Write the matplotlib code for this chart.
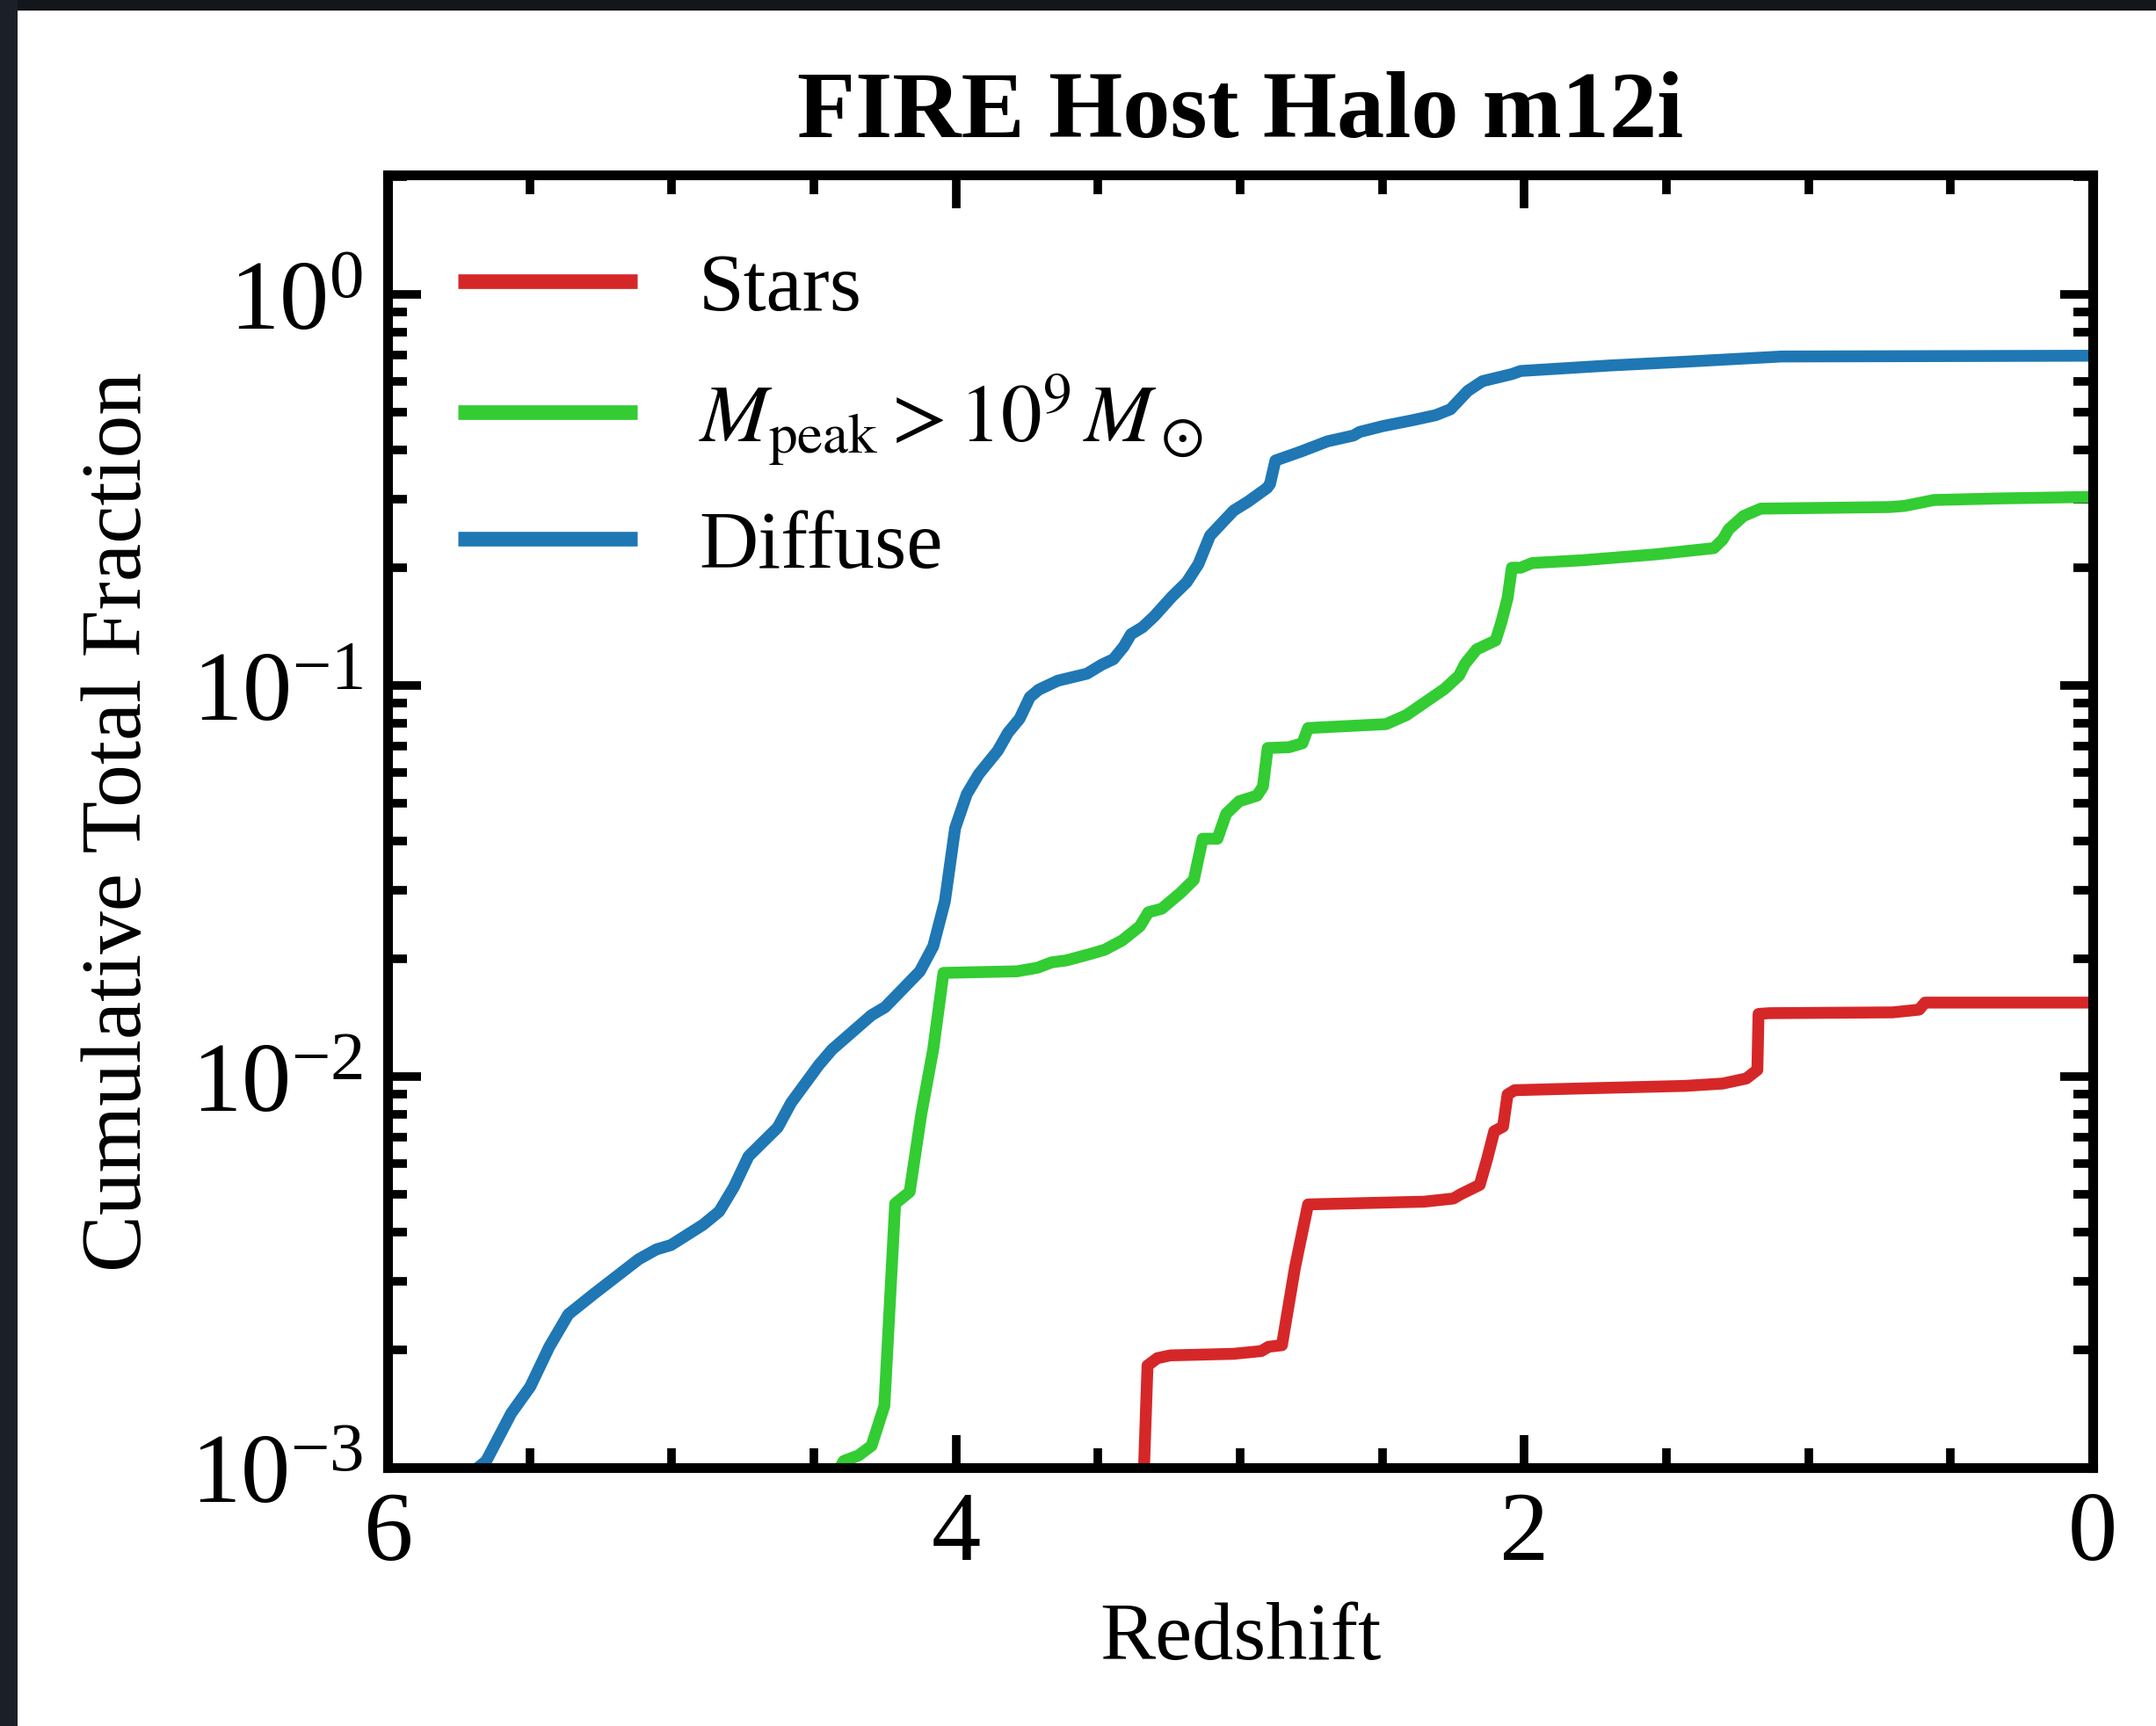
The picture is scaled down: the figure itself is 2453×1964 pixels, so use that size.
import numpy as np
import matplotlib
matplotlib.use('Agg')
import matplotlib.pyplot as plt
from matplotlib.patches import Rectangle
from matplotlib.ticker import LogLocator, MultipleLocator, NullFormatter

plt.rcParams['font.family'] = ['Liberation Serif', 'DejaVu Serif']
plt.rcParams['mathtext.fontset'] = 'stix'

# ---------------- data (redshift, log10 cumulative fraction) ----------------
stars_z = [3.343, 3.326, 3.291, 3.245, 3.023, 2.926, 2.900, 2.853, 2.807, 2.761,
           2.353, 2.250, 2.224, 2.157, 2.131, 2.106, 2.075, 2.059, 2.034, 1.827,
           1.436, 1.302, 1.219, 1.180, 1.176, 1.137, 0.704, 0.611, 0.590, 0.000]
stars_logf = [-3.10, -2.739, -2.720, -2.713, -2.709, -2.702, -2.691, -2.687, -2.488, -2.327,
              -2.320, -2.312, -2.301, -2.277, -2.211, -2.140, -2.128, -2.046, -2.035, -2.031,
              -2.024, -2.018, -2.005, -1.983, -1.840, -1.838, -1.836, -1.829, -1.811, -1.811]

mpeak_z = [4.43, 4.395, 4.343, 4.297, 4.252, 4.214, 4.163, 4.122, 4.080, 4.044,
           3.786, 3.714, 3.663, 3.611, 3.529, 3.477, 3.415, 3.353, 3.323, 3.276,
           3.209, 3.163, 3.132, 3.080, 3.049, 3.003, 2.941, 2.920, 2.903, 2.828,
           2.781, 2.761, 2.487, 2.415, 2.281, 2.230, 2.209, 2.168, 2.101, 2.080,
           2.059, 2.044, 2.013, 1.972, 1.796, 1.539, 1.333, 1.302, 1.281, 1.229,
           1.168, 0.714, 0.662, 0.559, 0.333, 0.000]
mpeak_logf = [-3.03, -2.983, -2.969, -2.944, -2.842, -2.325, -2.295, -2.096, -1.930, -1.735,
              -1.731, -1.722, -1.708, -1.703, -1.687, -1.676, -1.652, -1.616, -1.580, -1.571,
              -1.530, -1.497, -1.392, -1.392, -1.328, -1.296, -1.282, -1.259, -1.160, -1.158,
              -1.148, -1.109, -1.099, -1.076, -1.009, -0.975, -0.945, -0.908, -0.885, -0.836,
              -0.777, -0.699, -0.699, -0.687, -0.680, -0.665, -0.649, -0.627, -0.601, -0.567,
              -0.548, -0.544, -0.541, -0.526, -0.522, -0.518]

diffuse_z = [5.80, 5.69, 5.653, 5.565, 5.498, 5.431, 5.364, 5.271, 5.116, 5.054,
             5.003, 4.890, 4.833, 4.781, 4.730, 4.627, 4.580, 4.482, 4.436, 4.297,
             4.250, 4.199, 4.127, 4.080, 4.039, 4.003, 3.962, 3.920, 3.853, 3.817,
             3.776, 3.740, 3.709, 3.642, 3.539, 3.487, 3.446, 3.410, 3.384, 3.343,
             3.302, 3.240, 3.188, 3.147, 3.106, 3.023, 2.972, 2.905, 2.895, 2.876,
             2.786, 2.693, 2.601, 2.580, 2.498, 2.394, 2.312, 2.260, 2.199, 2.147,
             2.044, 2.013, 1.700, 1.425, 1.095, 0.000]
diffuse_logf = [-3.05, -3.005, -2.983, -2.861, -2.793, -2.691, -2.608, -2.554, -2.467, -2.442,
                -2.431, -2.379, -2.345, -2.282, -2.204, -2.130, -2.067, -1.970, -1.931, -1.843,
                -1.823, -1.785, -1.731, -1.667, -1.552, -1.365, -1.278, -1.227, -1.167, -1.121,
                -1.085, -1.030, -1.011, -0.988, -0.970, -0.947, -0.933, -0.901, -0.869, -0.851,
                -0.823, -0.773, -0.736, -0.690, -0.617, -0.553, -0.530, -0.495, -0.485, -0.425,
                -0.402, -0.376, -0.361, -0.352, -0.337, -0.322, -0.309, -0.294, -0.247, -0.222,
                -0.204, -0.196, -0.182, -0.172, -0.159, -0.157]

series_labels = ['Stars', r'$M_{\rm peak} > 10^9\,M_\odot$', 'Diffuse']
series_colors = ['#d62728', '#33cc33', '#1f77b4']

title = 'FIRE Host Halo m12i'
xlabel = 'Redshift'
ylabel = 'Cumulative Total Fraction'

# ---------------- figure ----------------
fig = plt.figure(figsize=(24.53, 19.65), dpi=100)
fig.patch.set_facecolor('white')
# dark screenshot border (top and left)
fig.patches.append(Rectangle((0, 1 - 13 / 1965), 1, 13 / 1965, transform=fig.transFigure,
                             facecolor='#13161b', edgecolor='none', zorder=10))
fig.patches.append(Rectangle((0, 0), 20 / 2453, 1, transform=fig.transFigure,
                             facecolor='#1b1f27', edgecolor='none', zorder=10))

ax = fig.add_axes([441 / 2453, 1 - 1671 / 1965, 1940 / 2453, 1471 / 1965])

lw = 9.7
for zs, lf, lab, col in [(stars_z, stars_logf, series_labels[0], series_colors[0]),
                         (mpeak_z, mpeak_logf, series_labels[1], series_colors[1]),
                         (diffuse_z, diffuse_logf, series_labels[2], series_colors[2])]:
    ax.plot(zs, 10 ** np.array(lf), color=col, lw=lw, label=lab,
            solid_joinstyle='round', solid_capstyle='butt')

ax.set_yscale('log')
ax.set_xlim(6, 0)
ax.set_ylim(1e-3, 2.02)

ax.xaxis.set_major_locator(MultipleLocator(2))
ax.xaxis.set_minor_locator(MultipleLocator(0.5))
ax.yaxis.set_major_locator(LogLocator(base=10, numticks=10))
ax.yaxis.set_minor_locator(LogLocator(base=10, subs=np.arange(2, 10), numticks=30))
ax.yaxis.set_minor_formatter(NullFormatter())

ax.tick_params(which='both', direction='in', top=True, right=True, width=7, color='black')
ax.tick_params(which='major', length=27, labelsize=81)
ax.tick_params(axis='x', which='major', pad=19)
ax.tick_params(axis='y', which='major', pad=20)
ax.tick_params(which='minor', length=16)
for s in ax.spines.values():
    s.set_linewidth(8)

ax.set_title(title, fontsize=78, fontweight='bold', pad=32)
ax.set_xlabel(xlabel, fontsize=68, labelpad=17)
ax.set_ylabel(ylabel, fontsize=70, labelpad=26)

leg = ax.legend(loc='upper left', bbox_to_anchor=(0.041, 0.94), frameon=False,
                fontsize=67, handlelength=2.2, handletextpad=0.75, labelspacing=0.53,
                borderpad=0, borderaxespad=0)
for h in leg.get_lines():
    h.set_linewidth(12)

fig.savefig('out.png', dpi=100, facecolor='white')
